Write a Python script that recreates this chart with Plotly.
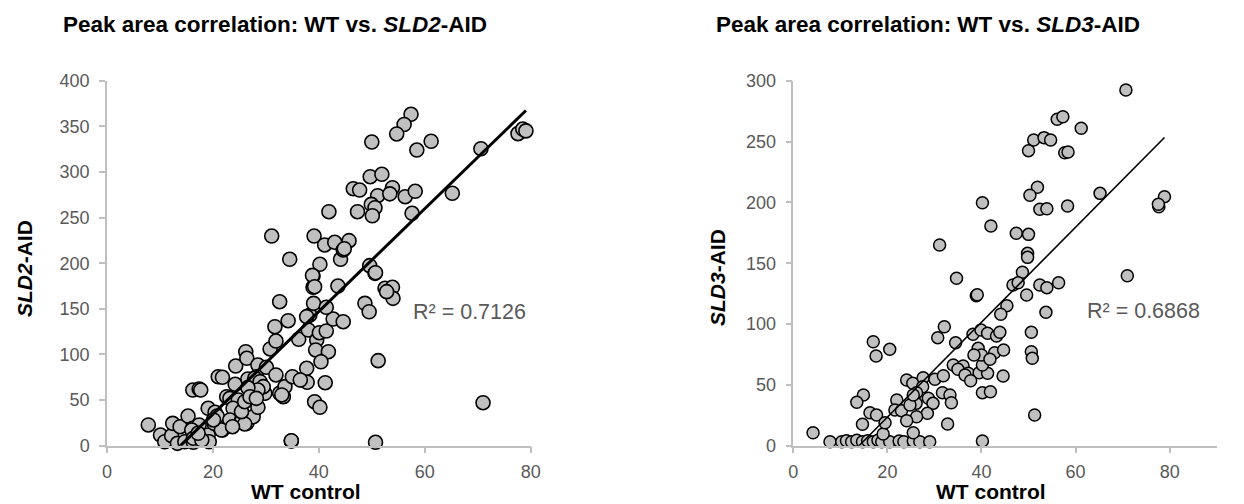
import numpy as np
import plotly.graph_objects as go

# ---------------- Data: WT vs SLD2-AID ----------------
sld2_wt = [7.8, 10.1, 10.9, 12.2, 12.4, 13.8, 13.3, 15.3, 14.7, 16.3, 16.2, 17.4, 17.7, 16.2, 17.4,
           19.1, 19.3, 19.1, 20.4, 20.2, 21.8, 20.8, 21.0, 21.8, 22.6, 23.2, 24.3, 24.2, 24.8, 23.8,
           23.2, 25.4, 26.4, 26.2, 26.4, 26.8, 27.6, 28.5, 28.5, 28.2, 28.9, 30.1, 29.8, 30.8, 31.7,
           31.9, 32.6, 31.9, 32.6, 33.3, 33.6, 34.2, 35.0, 36.2, 34.8, 36.7, 37.8, 38.0, 38.3, 37.7,
           38.9, 39.0, 39.2, 39.6, 39.4,
           16.0, 16.3, 17.9, 17.2, 21.6, 25.4, 26.0, 23.7, 20.1, 25.4, 26.0, 26.6, 27.9, 28.9, 29.5,
           28.5, 26.6, 27.0, 28.2, 41.2, 40.2, 41.8, 40.4, 40.1, 41.4, 37.7, 42.7, 44.6, 41.4, 48.7,
           49.5, 52.5, 53.9, 54.0, 52.8, 49.6, 50.6, 43.6, 38.9, 40.2, 34.5, 44.1, 39.1, 41.1, 43.0,
           45.7, 44.6, 31.1, 51.2, 50.7, 36.5, 33.0, 71.0, 34.8,
           57.4, 56.1, 54.7, 50.0, 58.5, 61.2, 70.6, 77.6, 78.5, 79.1, 49.7, 51.9, 46.5, 47.7, 53.9,
           51.1, 53.4, 56.3, 58.2, 49.9, 50.6, 50.1, 47.3, 41.9, 57.6, 65.2, 38.8, 39.2, 50.7, 44.8]
sld2_aid = [22.7, 11.7, 4.4, 11.0, 24.5, 20.8, 2.6, 32.5, 4.4, 3.7, 61.0, 62.1, 61.0, 19.0, 22.7,
            11.7, 4.4, 41.0, 36.6, 24.5, 17.2, 32.5, 75.6, 75.0, 53.7, 51.9, 87.3, 67.3, 50.1, 41.0,
            28.2, 28.2, 24.5, 103.0, 95.8, 64.0, 31.8, 42.1, 88.4, 75.6, 62.9, 85.9, 57.4, 106.0, 130.4,
            114.7, 157.8, 77.5, 57.4, 53.7, 64.7, 137.0, 75.6, 116.6, 5.2, 72.0, 69.5, 126.8, 143.2, 84.8,
            173.6, 156.0, 48.2, 115.8, 104.9,
            17.2, 8.1, 6.2, 13.6, 17.2, 26.3, 23.8, 20.8, 28.2, 37.3, 48.2, 73.1, 73.9, 70.1, 64.7,
            61.0, 63.6, 53.7, 51.9, 69.0, 42.1, 103.0, 92.0, 123.8, 125.7, 141.4, 138.8, 135.9, 151.7, 156.0,
            146.8, 172.5, 173.6, 161.5, 168.8, 197.3, 188.9, 175.0, 186.0, 198.8, 204.3, 204.3, 229.8, 220.0, 222.9,
            224.7, 214.5, 229.8, 93.2, 3.7, 72.0, 55.6, 47.1, 5.5,
            363.2, 352.0, 341.6, 332.8, 324.0, 333.6, 325.5, 342.0, 347.0, 345.0, 294.8, 297.4, 281.6, 280.2, 282.7,
            274.0, 276.0, 272.9, 278.8, 264.5, 260.8, 252.0, 256.4, 256.4, 254.7, 276.6, 186.7, 174.2, 189.6, 215.9]
sld2_r2_label = "R² = 0.7126"

# ---------------- Data: WT vs SLD3-AID ----------------
sld3_wt = [7.8, 10.3, 11.3, 12.4, 13.5, 14.7, 15.8, 17.0, 18.0, 18.8, 20.5, 22.5, 23.5, 25.5, 26.9,
           29.0, 40.2,
           4.2, 19.1, 14.7, 16.3, 17.7, 19.5, 14.9, 13.5, 17.0, 17.6, 20.5, 22.0, 21.6, 23.0, 24.1,
           25.4, 27.6, 27.5, 26.2, 28.7, 29.7, 26.1, 24.8, 28.5, 26.2, 24.1, 25.5, 31.7, 33.3, 33.6,
           32.8, 30.1, 31.9, 25.5,
           30.7, 32.1, 34.5, 34.0, 36.1, 35.0, 37.2, 36.5, 39.5, 41.3, 40.2, 37.7, 44.6, 40.2, 41.9,
           38.2, 39.9, 41.3, 43.2, 43.9, 39.3, 40.0, 38.4, 42.8, 44.7, 41.8, 45.4, 44.1, 49.6, 53.7,
           50.6, 50.6, 50.8, 51.3, 38.9, 39.1, 34.7, 31.1,
           70.7, 56.1, 57.3, 61.2, 51.1, 53.3, 54.7, 50.0, 57.7, 58.4, 51.9, 50.3, 52.4, 53.9, 58.3,
           65.2, 78.9, 77.7, 77.6, 40.2, 42.0, 47.4, 50.0, 49.8, 49.8, 48.7, 46.7, 47.8, 52.4, 53.9,
           56.4, 71.0]
sld3_aid = [3.3, 3.3, 4.0, 3.3, 4.5, 3.3, 4.0, 3.3, 4.5, 3.3, 3.3, 3.8, 3.3, 3.8, 3.3,
            3.3, 3.9,
            10.7, 9.6, 17.6, 27.1, 25.2, 18.9, 41.7, 35.7, 85.5, 73.7, 79.2, 37.6, 29.3, 28.8, 54.0,
            51.3, 55.9, 48.5, 43.6, 39.0, 34.8, 34.8, 33.5, 26.6, 23.8, 20.5, 10.7, 43.6, 41.7, 35.3,
            17.8, 54.6, 57.5, 41.7,
            88.8, 97.8, 84.7, 66.3, 65.5, 62.8, 59.5, 58.1, 60.0, 59.5, 66.3, 53.4, 57.3, 43.6, 44.4,
            91.6, 95.1, 92.4, 90.2, 93.2, 80.0, 74.5, 74.5, 76.4, 78.7, 71.0, 115.1, 108.0, 123.9, 109.6,
            93.2, 77.3, 71.8, 25.2, 123.3, 124.0, 137.6, 165.0,
            292.4, 268.3, 270.4, 260.9, 251.3, 253.2, 251.3, 242.5, 240.8, 241.4, 212.4, 205.8, 194.3, 194.8, 197.0,
            207.4, 204.7, 196.4, 198.5, 199.7, 180.6, 174.6, 173.7, 158.1, 154.8, 142.5, 132.1, 134.0, 132.1, 129.9,
            134.0, 139.7]
sld3_r2_label = "R² = 0.6868"

x_ticks = [0, 20, 40, 60, 80]

FONT = "Liberation Sans, Arial, Helvetica, sans-serif"
AXIS_GRAY = "#BFBFBF"
TICK_TXT = "#595959"
MARK_FILL = "#C0C0C0"


def fit_line(x, y, ymin):
    x = np.asarray(x, float)
    y = np.asarray(y, float)
    m, b = np.polyfit(x, y, 1)
    x0 = max(x.min(), (ymin - b) / m)
    x1 = x.max()
    return [x0, x1], [m * x0 + b, m * x1 + b]


fig = go.Figure()

# Left panel
fig.add_trace(go.Scatter(
    x=sld2_wt, y=sld2_aid, mode="markers", xaxis="x", yaxis="y",
    marker=dict(size=14, color=MARK_FILL, line=dict(color="black", width=1.6)),
    cliponaxis=False, showlegend=False, hoverinfo="x+y"))
lx, ly = fit_line(sld2_wt, sld2_aid, 0)
fig.add_trace(go.Scatter(
    x=lx, y=ly, mode="lines", xaxis="x", yaxis="y",
    line=dict(color="black", width=3), showlegend=False, hoverinfo="skip"))

# Right panel
fig.add_trace(go.Scatter(
    x=sld3_wt, y=sld3_aid, mode="markers", xaxis="x2", yaxis="y2",
    marker=dict(size=12, color=MARK_FILL, line=dict(color="black", width=1.5)),
    cliponaxis=False, showlegend=False, hoverinfo="x+y"))
rx, ry = fit_line(sld3_wt, sld3_aid, 0)
fig.add_trace(go.Scatter(
    x=rx, y=ry, mode="lines", xaxis="x2", yaxis="y2",
    line=dict(color="black", width=1.6), showlegend=False, hoverinfo="skip"))

W, H = 1244, 504
PAGE_OFF = 8  # default body margin of the html page


def px_x(p):
    return (p - PAGE_OFF) / W


def px_y(p):
    return 1 - (p - PAGE_OFF) / H


axis_common = dict(showgrid=False, zeroline=False, showline=True, linecolor=AXIS_GRAY,
                   linewidth=1.5, ticks="outside", ticklen=6, tickcolor=AXIS_GRAY, tickwidth=1.5,
                   automargin=False,
                   tickfont=dict(family=FONT, size=18, color=TICK_TXT))

fig.update_layout(
    width=W, height=H,
    margin=dict(l=0, r=0, t=0, b=0, autoexpand=False),
    paper_bgcolor="white", plot_bgcolor="white",
    font=dict(family=FONT),
    xaxis=dict(domain=[px_x(107), px_x(530.7)], range=[0, 80], tickvals=x_ticks,
               anchor="y", ticklabelstandoff=3, **axis_common),
    yaxis=dict(domain=[px_y(445.7), px_y(80.7)], range=[0, 400], dtick=50,
               anchor="x", ticklabelstandoff=6, **axis_common),
    xaxis2=dict(domain=[px_x(793.3), px_x(1216.7)], range=[0, 90], tickvals=x_ticks,
                anchor="y2", ticklabelstandoff=3, **axis_common),
    yaxis2=dict(domain=[px_y(445.7), px_y(80.7)], range=[0, 300], dtick=50,
                anchor="x2", ticklabelstandoff=6, **axis_common),
)

ann = []
# Titles
ann.append(dict(text="<b>Peak area correlation: WT vs. <i>SLD2</i>-AID</b>", x=px_x(275), y=px_y(25),
                xref="paper", yref="paper", showarrow=False, xanchor="center", yanchor="middle",
                font=dict(family=FONT, size=22.5, color="black")))
ann.append(dict(text="<b>Peak area correlation: WT vs. <i>SLD3</i>-AID</b>", x=px_x(928), y=px_y(25),
                xref="paper", yref="paper", showarrow=False, xanchor="center", yanchor="middle",
                font=dict(family=FONT, size=22.5, color="black")))
# Axis titles
for cx in (306, 991):
    ann.append(dict(text="<b>WT control</b>", x=px_x(cx), y=px_y(491), xref="paper", yref="paper",
                    showarrow=False, xanchor="center", yanchor="middle",
                    font=dict(family=FONT, size=21, color="black")))
ann.append(dict(text="<b><i>SLD2</i>-AID</b>", x=px_x(24), y=px_y(269), xref="paper", yref="paper",
                showarrow=False, textangle=-90, xanchor="center", yanchor="middle",
                font=dict(family=FONT, size=21, color="black")))
ann.append(dict(text="<b><i>SLD3</i>-AID</b>", x=px_x(717), y=px_y(278), xref="paper", yref="paper",
                showarrow=False, textangle=-90, xanchor="center", yanchor="middle",
                font=dict(family=FONT, size=21, color="black")))
# R² labels
ann.append(dict(text=sld2_r2_label, x=px_x(411), y=px_y(312), xref="paper", yref="paper",
                showarrow=False, xanchor="left", yanchor="middle",
                font=dict(family=FONT, size=21.5, color=TICK_TXT)))
ann.append(dict(text=sld3_r2_label, x=px_x(1085), y=px_y(311), xref="paper", yref="paper",
                showarrow=False, xanchor="left", yanchor="middle",
                font=dict(family=FONT, size=21.5, color=TICK_TXT)))
fig.update_layout(annotations=ann)

fig.write_html("out.html")
